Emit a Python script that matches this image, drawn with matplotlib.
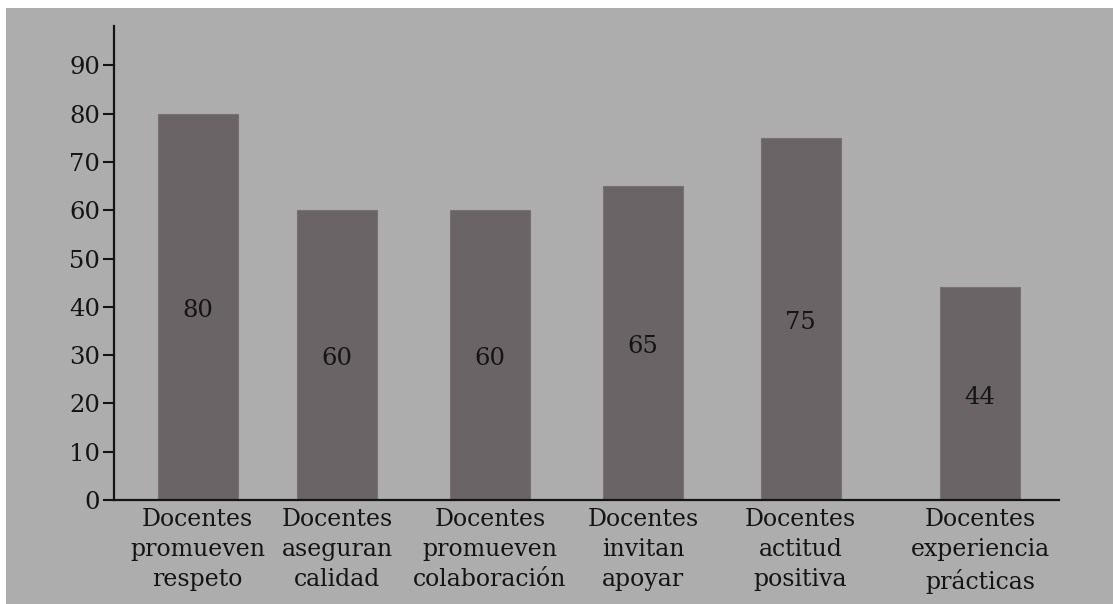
import matplotlib
matplotlib.use("Agg")
import matplotlib.pyplot as plt
from matplotlib.patches import Rectangle

# Categories and percentages
categories = [
    "Docentes\npromueven\nrespeto",
    "Docentes\naseguran\ncalidad",
    "Docentes\npromueven\ncolaboración",
    "Docentes\ninvitan\napoyar",
    "Docentes\nactitud\npositiva",
    "Docentes\nexperiencia\nprácticas",
]
values = [80, 60, 60, 65, 75, 44]
y_ticks = [0, 10, 20, 30, 40, 50, 60, 70, 80, 90]

# Bar centres along the x axis (uneven spacing, last group pushed right)
x_pos = [83.5, 223, 376, 529, 686.5, 866]
bar_width = 80

BG = "#adadad"
BAR = "#6a6466"
INK = "#141414"

plt.rcParams["font.family"] = ["DejaVu Serif"]

W, H = 1113, 604
fig = plt.figure(figsize=(W / 100, H / 100), dpi=100, facecolor="white")
# grey panel with a thin white margin on the left and top
fig.patches.append(Rectangle((6 / W, 0), 1 - 6 / W, 1 - 8 / H,
                             transform=fig.transFigure, facecolor=BG,
                             edgecolor="none", zorder=-10))

left, right, bottom, top = 114, 1059, 500, 26
ax = fig.add_axes([left / W, 1 - bottom / H, (right - left) / W, (bottom - top) / H])
ax.set_facecolor("none")
ax.set_zorder(5)

ax.bar(x_pos, values, width=bar_width, color=BAR, edgecolor="#777173",
       linewidth=0.8, zorder=2)

for x, v in zip(x_pos, values):
    ax.text(x, v / 2 - 0.8, str(v), ha="center", va="center",
            fontsize=17.5, color=INK, zorder=3)

ax.set_xlim(0, right - left)
ax.set_ylim(0, (bottom - top) / 4.83)
ax.set_yticks(y_ticks)
ax.set_yticklabels([str(t) for t in y_ticks], fontsize=17.5, color=INK)
ax.set_xticks(x_pos)
ax.set_xticklabels(categories, fontsize=17, color=INK, linespacing=1.38)

ax.tick_params(axis="y", direction="out", length=8, width=1.5, color=INK, pad=2)
ax.tick_params(axis="x", length=0, pad=6)

for side in ("top", "right"):
    ax.spines[side].set_visible(False)
for side in ("left", "bottom"):
    ax.spines[side].set_linewidth(1.6)
    ax.spines[side].set_color(INK)

fig.savefig("out.png", dpi=100, facecolor="white")
